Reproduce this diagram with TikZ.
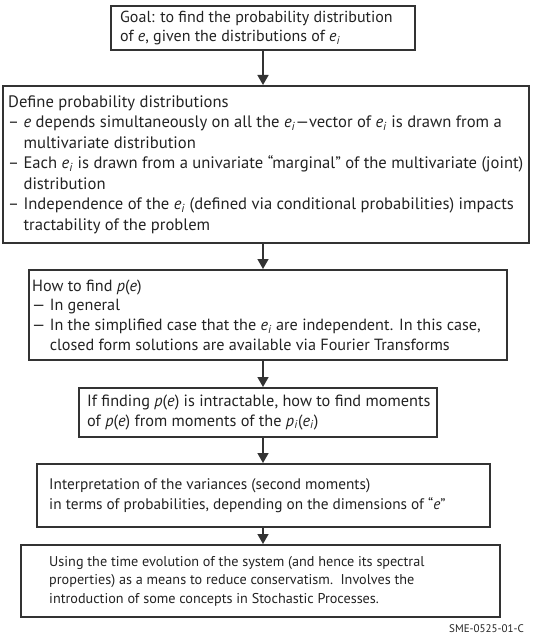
\documentclass[tikz,border=0pt]{standalone}
\usepackage{fontspec}
\setmainfont{PT Sans}
\usetikzlibrary{arrows.meta}
\definecolor{ink}{HTML}{333333}
\definecolor{txt}{HTML}{222222}
\tikzset{
  box/.style={draw=ink, line width=2pt, inner sep=0pt},
  txtblock/.style={align=left, inner sep=0pt, text=txt, anchor=west},
  arr/.style={draw=ink, line width=1.6pt, -{Triangle[length=10pt,width=11pt]}},
}
\newcommand{\ei}{\textit{e}\textsubscript{\textit{i}}}
\begin{document}
\begin{tikzpicture}[x=1pt,y=-1pt]
\useasboundingbox (0,0) rectangle (533,636);
% boxes
\node[box, minimum width=304pt, minimum height=44pt] (b1) at (263,28) {};
\node[box, minimum width=526pt, minimum height=157pt] (b2) at (266,164.5) {};
\node[box, minimum width=478pt, minimum height=90pt] (b3) at (268,315) {};
\node[box, minimum width=358pt, minimum height=49pt] (b4) at (258,412.5) {};
\node[box, minimum width=453pt, minimum height=63pt] (b5) at (263.5,495.5) {};
\node[box, minimum width=479pt, minimum height=72pt] (b6) at (260.5,581) {};
% texts
\node[txtblock, font=\fontsize{16}{19.5}\selectfont] (t1) at ([xshift=10pt]b1.west)
 {Goal: to find the probability distribution\\ of \textit{e}, given the distributions of \ei};
\node[txtblock, font=\fontsize{16.6}{20.5}\selectfont] (t2) at ([xshift=6pt]b2.west)
 {Define probability distributions\\
  – \textit{e} depends simultaneously on all the \ei—vector of \ei{} is drawn from a\\
  \phantom{– }multivariate distribution\\
  – Each \ei{} is drawn from a univariate “marginal” of the multivariate (joint)\\
  \phantom{– }distribution\\
  – Independence of the \ei{} (defined via conditional probabilities) impacts\\
  \phantom{– }tractability of the problem};
\node[txtblock, font=\fontsize{16.2}{19.7}\selectfont] (t3) at ([xshift=4pt]b3.west)
 {How to find \textit{p}(\textit{e})\\
  — In general\\
  — In the simplified case that the \ei{} are independent. In this case,\\
  \phantom{— }closed form solutions are available via Fourier Transforms};
\node[txtblock, font=\fontsize{16.3}{19.5}\selectfont] (t4) at ([xshift=9pt]b4.west)
 {If finding \textit{p}(\textit{e}) is intractable, how to find moments\\
  of \textit{p}(\textit{e}) from moments of the \textit{p}\textsubscript{\textit{i}}(\ei)};
\node[txtblock, font=\fontsize{15.3}{20}\selectfont] (t5) at ([xshift=13pt]b5.west)
 {Interpretation of the variances (second moments)\\
  in terms of probabilities, depending on the dimensions of “\textit{e}”};
\node[txtblock, font=\fontsize{14.2}{18.5}\selectfont] (t6) at ([xshift=29pt]b6.west)
 {Using the time evolution of the system (and hence its spectral\\
  properties) as a means to reduce conservatism.\ \ Involves the\\
  introduction of some concepts in Stochastic Processes.};
\node[anchor=east, inner sep=0pt, text=txt, font=\fontsize{11}{12}\selectfont] (lab) at (524,629) {SME-0525-01-C};
% arrows
\draw[arr] (b1.south) -- (b1.south |- b2.north);
\draw[arr] (b2.south -| b1.south) -- (b1.south |- b3.north);
\draw[arr] (b3.south -| b1.south) -- (b1.south |- b4.north);
\draw[arr] (b4.south -| b1.south) -- (b1.south |- b5.north);
\draw[arr] (b5.south -| b1.south) -- (b1.south |- b6.north);
\end{tikzpicture}
\end{document}
